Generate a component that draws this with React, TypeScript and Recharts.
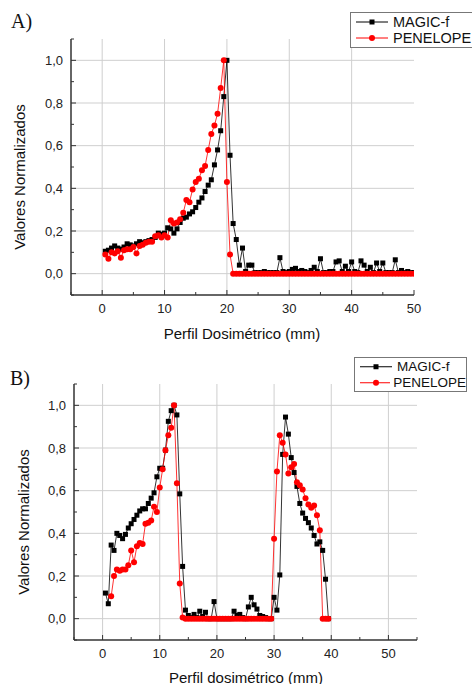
import React from 'react';
import { LineChart, Line, XAxis, YAxis, CartesianGrid } from 'recharts';

// Panel A: single field profile
const profileA = [
  0.5, 1, 1.5, 2, 2.5, 3, 3.5, 4, 4.5, 5, 5.5, 6, 6.5, 7, 7.5, 8, 8.5, 9, 9.5, 10,
  10.5, 11, 11.5, 12, 12.5, 13, 13.5, 14, 14.5, 15, 15.5, 16, 16.5, 17, 17.5, 18, 18.5, 19, 19.5, 20,
  20.5, 21, 21.5, 22, 22.5, 23, 23.5, 24, 24.5, 25, 25.5, 26, 26.5, 27, 27.5, 28, 28.5, 29, 29.5, 30,
  30.5, 31, 31.5, 32, 32.5, 33, 33.5, 34, 34.5, 35, 35.5, 36, 36.5, 37, 37.5, 38, 38.5, 39, 39.5, 40,
  40.5, 41, 41.5, 42, 42.5, 43, 43.5, 44, 44.5, 45, 45.5, 46, 46.5, 47, 47.5, 48, 48.5, 49, 49.5, 50,
];
const magicA = [
  0.105, 0.11, 0.12, 0.13, 0.12, 0.115, 0.125, 0.14, 0.135, 0.13, 0.14, 0.15, 0.145, 0.15, 0.155, 0.16, 0.17, 0.19, 0.185, 0.19,
  0.215, 0.21, 0.19, 0.21, 0.24, 0.26, 0.265, 0.28, 0.29, 0.31, 0.335, 0.355, 0.385, 0.415, 0.44, 0.51, 0.58, 0.67, 0.83, 1.0,
  0.555, 0.235, 0.16, 0.04, 0.12, 0.01, 0.04, 0.04, 0.005, 0.005, 0.005, 0.01, 0.005, 0.005, 0.005, 0.005, 0.075, 0.01, 0.005, 0.01,
  0.02, 0.025, 0.01, 0.015, 0.01, 0.005, 0.015, 0.03, 0.01, 0.07, 0.005, 0.005, 0.01, 0.01, 0.055, 0.06, 0.01, 0.035, 0.01, 0.055,
  0.01, 0.005, 0.06, 0.04, 0.01, 0.03, 0.005, 0.05, 0.01, 0.05, 0.005, 0.005, 0.005, 0.065, 0.005, 0.015, 0.005, 0.01, 0.005, 0.005,
];
const penelopeA = [
  0.09, 0.07, 0.1, 0.095, 0.105, 0.075, 0.11, 0.115, 0.115, 0.125, 0.095, 0.13, 0.135, 0.145, 0.15, 0.15, 0.175, 0.18, 0.17, 0.18,
  0.17, 0.25, 0.235, 0.24, 0.255, 0.285, 0.345, 0.335, 0.395, 0.43, 0.445, 0.485, 0.505, 0.58, 0.655, 0.695, 0.75, 0.87, 1.0, 0.43,
  0.09, 0, 0, 0, 0, 0, 0, 0, 0, 0, 0, 0, 0, 0, 0, 0, 0, 0, 0, 0,
  0, 0, 0, 0, 0, 0, 0, 0, 0, 0, 0, 0, 0, 0, 0, 0, 0, 0, 0, 0,
  0, 0, 0, 0, 0, 0, 0, 0, 0, 0, 0, 0, 0, 0, 0, 0, 0, 0, 0, 0,
];

// Panel B: two fields
const profileB = [
  0.5, 1, 1.5, 2, 2.5, 3, 3.5, 4, 4.5, 5, 5.5, 6, 6.5, 7, 7.5, 8, 8.5, 9, 9.5, 10,
  10.5, 11, 11.5, 12, 12.5, 13, 13.5, 14, 14.5, 15, 15.5, 16, 16.5, 17, 17.5, 18, 18.5, 19, 19.5, 20,
  20.5, 21, 21.5, 22, 22.5, 23, 23.5, 24, 24.5, 25, 25.5, 26, 26.5, 27, 27.5, 28, 28.5, 29, 29.5, 30,
  30.5, 31, 31.5, 32, 32.5, 33, 33.5, 34, 34.5, 35, 35.5, 36, 36.5, 37, 37.5, 38, 38.5, 39, 39.5,
];
const magicB = [
  0.12, 0.07, 0.345, 0.32, 0.4, 0.39, 0.375, 0.395, 0.425, 0.445, 0.465, 0.485, 0.505, 0.515, 0.515, 0.54, 0.565, 0.59, 0.665, 0.705,
  0.705, 0.79, 0.925, 0.975, 1.0, 0.955, 0.585, 0.245, 0.04, 0.015, 0.005, 0.02, 0.005, 0.035, 0.01, 0.03, 0, 0, 0.08, 0,
  0, 0, 0, 0, 0, 0.035, 0.015, 0.02, 0.005, 0, 0.055, 0.1, 0.065, 0.045, 0.015, 0.01, 0.005, 0, 0, 0.1,
  0.04, 0.205, 0.77, 0.945, 0.865, 0.755, 0.685, 0.62, 0.54, 0.495, 0.47, 0.45, 0.425, 0.39, 0.35, 0.36, 0.32, 0.185, 0,
];
const penelopeB = [
  null, null, 0.105, 0.2, 0.23, 0.225, 0.23, 0.23, 0.25, 0.32, 0.265, 0.34, 0.355, 0.35, 0.445, 0.45, 0.46, 0.525, 0.5, 0.615,
  0.7, 0.79, 0.86, 0.895, 1.0, 0.635, 0.165, 0.005, 0, 0, 0, 0, 0, 0, 0, 0, 0, 0, 0, 0,
  0, 0, 0, 0, 0, 0, 0, 0, 0, 0, 0, 0, 0, 0, 0, 0, 0, 0, 0, 0.375,
  0.69, 0.86, 0.825, 0.77, 0.68, 0.71, 0.725, 0.64, 0.625, 0.605, 0.565, 0.535, 0.52, 0.53, 0.485, 0.415, 0, 0, 0,
];

// axes
const yTicks = [-0.1, 0, 0.1, 0.2, 0.3, 0.4, 0.5, 0.6, 0.7, 0.8, 0.9, 1.0, 1.1];
const yLabels = [0, 0.2, 0.4, 0.6, 0.8, 1.0];
const xTicksA = [-5, 0, 5, 10, 15, 20, 25, 30, 35, 40, 45, 50];
const xTicksB = [-5, 0, 5, 10, 15, 20, 25, 30, 35, 40, 45, 50, 55];
const xLabels = [0, 10, 20, 30, 40, 50];
const xGridA = [0, 10, 20, 30, 40];
const xGridB = [0, 10, 20, 30, 40, 50];

const AXIS = '#333';
const FONT = '"Liberation Sans", Arial, sans-serif';

const YTick = (props: any) => {
  const { x, y, payload } = props;
  const v = payload.value;
  const major = yLabels.includes(Math.round(v * 10) / 10);
  return (
    <g>
      <line x1={x} x2={x + (major ? 5 : 3)} y1={y} y2={y} stroke={AXIS} strokeWidth={1} />
      {major && (
        <text x={x - 8} y={y} dy={4.5} textAnchor="end" fill="#222" fontSize={13} fontFamily={FONT}>
          {v.toFixed(1).replace('.', ',')}
        </text>
      )}
    </g>
  );
};

const XTick = (props: any) => {
  const { x, y, payload } = props;
  const v = payload.value;
  const major = xLabels.includes(v);
  return (
    <g>
      <line x1={x} x2={x} y1={y} y2={y - (major ? 5 : 3)} stroke={AXIS} strokeWidth={1} />
      {major && (
        <text x={x} y={y} dy={18} textAnchor="middle" fill="#222" fontSize={13} fontFamily={FONT}>
          {v}
        </text>
      )}
    </g>
  );
};

const SquareDot = (props: any) => {
  const { cx, cy, index } = props;
  if (cx == null || cy == null) return <g key={`s${index}`} />;
  return <rect key={`s${index}`} x={cx - 2.5} y={cy - 2.5} width={5} height={5} fill="#000" />;
};

const CircleDot = (props: any) => {
  const { cx, cy, index } = props;
  if (cx == null || cy == null) return <g key={`c${index}`} />;
  return <circle key={`c${index}`} cx={cx} cy={cy} r={3} fill="#ff0000" />;
};

function LegendBox({ left, top, width, rowH, fontSize }: any) {
  const row = (color: string, label: string, square: boolean) => (
    <div style={{ display: 'flex', alignItems: 'center', height: rowH }}>
      <svg width={36} height={rowH} style={{ marginLeft: 3 }}>
        <line x1={2} x2={34} y1={rowH / 2} y2={rowH / 2} stroke={color} strokeWidth={1} />
        {square ? (
          <rect x={15.5} y={rowH / 2 - 2.5} width={5} height={5} fill={color} />
        ) : (
          <circle cx={18} cy={rowH / 2} r={3} fill={color} />
        )}
      </svg>
      <span style={{ marginLeft: 3, fontSize, fontFamily: FONT, color: '#111' }}>{label}</span>
    </div>
  );
  return (
    <div
      style={{
        position: 'absolute',
        left,
        top,
        width,
        border: '1px solid #777',
        background: '#fff',
        paddingTop: 1,
        paddingBottom: 1,
      }}
    >
      {row('#000', 'MAGIC-f', true)}
      {row('#ff0000', 'PENELOPE', false)}
    </div>
  );
}

function Panel({ top, height, tag, xTitle, data, xTicks, xDomain, xGrid, margin, yAxisW, xAxisH, legend, yTitlePos, xTitlePos, tagPos }: any) {
  return (
    <div style={{ position: 'absolute', left: 0, top, width: 472, height }}>
      <LineChart width={472} height={height} data={data} margin={margin}>
        <CartesianGrid
          stroke="#cfcfcf"
          strokeWidth={1}
          horizontalValues={yLabels}
          verticalValues={xGrid}
        />
        <XAxis
          type="number"
          dataKey="x"
          domain={xDomain}
          ticks={xTicks}
          interval={0}
          height={xAxisH}
          tickSize={0}
          tickMargin={0}
          tick={<XTick />}
          axisLine={{ stroke: AXIS, strokeWidth: 1.5 }}
          allowDataOverflow
        />
        <YAxis
          type="number"
          domain={[-0.1, 1.1]}
          ticks={yTicks}
          interval={0}
          width={yAxisW}
          tickSize={0}
          tickMargin={0}
          tick={<YTick />}
          axisLine={{ stroke: AXIS, strokeWidth: 1.5 }}
          allowDataOverflow
        />
        <Line
          dataKey="magic"
          stroke="#000"
          strokeWidth={0.8}
          dot={SquareDot}
          activeDot={false}
          isAnimationActive={false}
        />
        <Line
          dataKey="penelope"
          stroke="#ff0000"
          strokeWidth={0.8}
          dot={CircleDot}
          activeDot={false}
          isAnimationActive={false}
        />
      </LineChart>
      <div
        style={{
          position: 'absolute',
          left: tagPos[0],
          top: tagPos[1],
          fontFamily: '"Liberation Serif", "Times New Roman", serif',
          fontSize: 20,
          color: '#111',
        }}
      >
        {tag}
      </div>
      <div
        style={{
          position: 'absolute',
          left: yTitlePos[0],
          top: yTitlePos[1],
          transform: 'translate(-50%, -50%) rotate(-90deg)',
          whiteSpace: 'nowrap',
          fontFamily: FONT,
          fontSize: 15,
          color: '#111',
        }}
      >
        Valores Normalizados
      </div>
      <div
        style={{
          position: 'absolute',
          left: xTitlePos[0],
          top: xTitlePos[1],
          transform: 'translate(-50%, -50%)',
          whiteSpace: 'nowrap',
          fontFamily: FONT,
          fontSize: 15,
          color: '#111',
        }}
      >
        {xTitle}
      </div>
      <LegendBox {...legend} />
    </div>
  );
}

export default function App() {
  const dataA = profileA.map((x, i) => ({ x, magic: magicA[i], penelope: penelopeA[i] }));
  const dataB = profileB.map((x, i) => ({ x, magic: magicB[i], penelope: penelopeB[i] }));

  return (
    <div
      style={{
        position: 'absolute',
        left: 0,
        top: 0,
        width: 472,
        height: 684,
        overflow: 'hidden',
        background: '#fff',
      }}
    >
      <Panel
        top={0}
        height={340}
        tag="A)"
        xTitle="Perfil Dosimétrico (mm)"
        data={dataA}
        xTicks={xTicksA}
        xDomain={[-5, 50]}
        xGrid={xGridA}
        margin={{ top: 39, right: 58, left: 0, bottom: 0 }}
        yAxisW={71}
        xAxisH={45}
        legend={{ left: 350, top: 12, width: 130, rowH: 16, fontSize: 14.5 }}
        yTitlePos={[19, 177]}
        xTitlePos={[242, 333]}
        tagPos={[11, 10]}
      />
      <Panel
        top={340}
        height={344}
        tag="B)"
        xTitle="Perfil dosimétrico (mm)"
        data={dataB}
        xTicks={xTicksB}
        xDomain={[-5, 55]}
        xGrid={xGridB}
        margin={{ top: 44, right: 55, left: 0, bottom: 0 }}
        yAxisW={74}
        xAxisH={44}
        legend={{ left: 354, top: 17, width: 111, rowH: 15.5, fontSize: 13.5 }}
        yTitlePos={[23, 182]}
        xTitlePos={[246, 337]}
        tagPos={[10, 27]}
      />
    </div>
  );
}
